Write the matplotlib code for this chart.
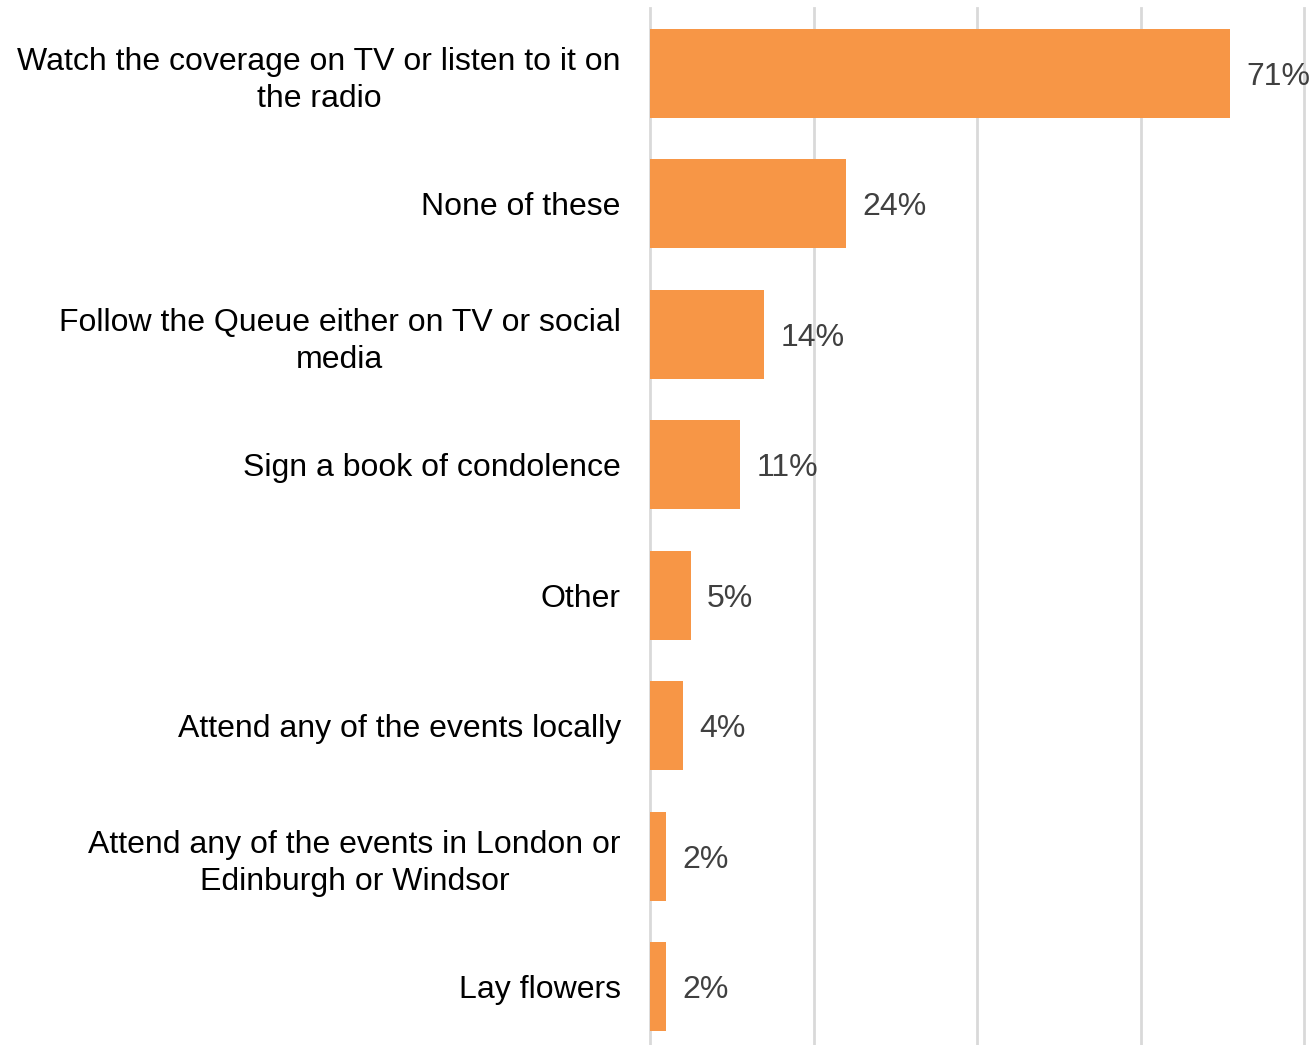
import numpy as np
import matplotlib
matplotlib.use("Agg")
import matplotlib.pyplot as plt

plt.rcParams['font.family'] = ['Liberation Sans', 'DejaVu Sans']

categories = [
    "Watch the coverage on TV or listen to it on\nthe radio",
    "None of these",
    "Follow the Queue either on TV or social\nmedia",
    "Sign a book of condolence",
    "Other",
    "Attend any of the events locally",
    "Attend any of the events in London or\nEdinburgh or Windsor",
    "Lay flowers",
]
values = [71, 24, 14, 11, 5, 4, 2, 2]

W, H = 1316, 1045
fig = plt.figure(figsize=(W / 100, H / 100), dpi=100)
# axes spans 0..80% horizontally, slightly runs past the bottom edge
ax = fig.add_axes([650 / W, -7 / H, (1304 - 650) / W, 1044 / H])

y = np.arange(len(categories))
ax.barh(y, values, height=0.68, color="#F79646", zorder=2)

ax.set_xlim(0, 80)
ax.set_ylim(len(categories) - 0.5, -0.5)
ax.set_xticks([0, 20, 40, 60, 80])
ax.xaxis.grid(True, color="#D9D9D9", linewidth=2, clip_on=False)
ax.tick_params(axis="x", length=0, labelbottom=False)
ax.tick_params(axis="y", length=0, pad=21)
for s in ax.spines.values():
    s.set_visible(False)

ax.set_yticks(y)
ax.set_yticklabels(categories, fontsize=23, color="black", linespacing=1.32)
for t in ax.get_yticklabels():
    t.set_multialignment("center")

for v, yy in zip(values, y):
    ax.text(v + 2, yy, f"{v}%", va="center_baseline", ha="left", fontsize=23,
            color="#404040", clip_on=False)

fig.savefig("out.png", dpi=100)
